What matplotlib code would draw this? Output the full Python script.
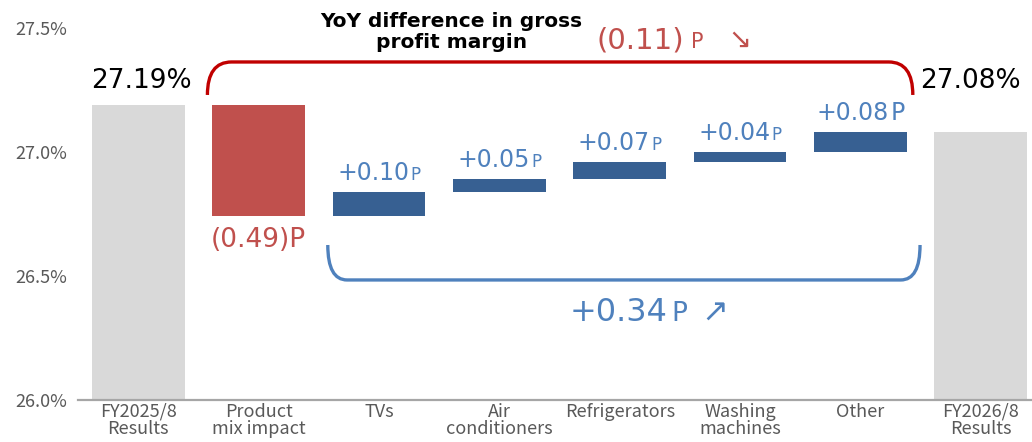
import matplotlib.pyplot as plt
import numpy as np
from matplotlib.path import Path
from matplotlib.patches import PathPatch
from matplotlib.offsetbox import TextArea, HPacker, AnnotationBbox

plt.rcParams['font.family'] = ['Noto Sans CJK JP', 'DejaVu Sans']

categories = ['FY2025/8\nResults', 'Product\nmix impact', 'TVs', 'Air\nconditioners',
              'Refrigerators', 'Washing\nmachines', 'Other', 'FY2026/8\nResults']
start_margin = 27.19
end_margin = 27.08
category_changes = [0.10, 0.05, 0.07, 0.04, 0.08]
change_labels = ['+0.10', '+0.05', '+0.07', '+0.04', '+0.08']
change_p_sizes = [12, 12, 12, 12, 17]
mix_label = '(0.49)P'
yoy_label = '(0.11)'
improve_label = '+0.34'
yticks = [26.0, 26.5, 27.0, 27.5]
ytick_labels = ['26.0%', '26.5%', '27.0%', '27.5%']

GRAY = '#d9d9d9'
RED_BAR = '#c0504d'
RED_TEXT = '#c0504d'
RED_LINE = '#c00000'
BLUE_BAR = '#376092'
BLUE_TEXT = '#4f81bd'
AXIS_TEXT = '#595959'
NUM_FONT = 'DejaVu Sans'


def bracket(ax, x0, x1, y_end, y_line, rx, color):
    verts = [(x0, y_end), (x0, y_line), (x0 + rx, y_line),
             (x1 - rx, y_line), (x1, y_line), (x1, y_end)]
    codes = [Path.MOVETO, Path.CURVE3, Path.CURVE3,
             Path.LINETO, Path.CURVE3, Path.CURVE3]
    ax.add_patch(PathPatch(Path(verts, codes), fill=False, edgecolor=color,
                           linewidth=2.4, capstyle='butt', clip_on=False))


def packed_label(ax, xy, parts, color, align=(0.5, 0), dy=0, sep=1):
    """parts: list of (text, fontsize) placed on one baseline."""
    children = [TextArea(s, textprops=dict(fontsize=fs, color=color, family=NUM_FONT))
                for s, fs in parts]
    box = HPacker(children=children, align='baseline', pad=0, sep=sep)
    ab = AnnotationBbox(box, xy, xybox=(0, dy), xycoords='data', boxcoords='offset pixels',
                        box_alignment=align, frameon=False, pad=0, annotation_clip=False)
    ax.add_artist(ab)


fig = plt.figure(figsize=(10.32, 4.42), dpi=100)
ax = fig.add_axes([78 / 1032, 42 / 442, 954 / 1032, 372 / 442])

x = np.arange(len(categories))
width = 0.77

# gray totals
ax.bar([x[0], x[-1]], [start_margin - 26.0, end_margin - 26.0], width, bottom=26.0, color=GRAY)

# category steps, built backwards from the ending margin
base = end_margin - sum(category_changes)
bottoms = base + np.concatenate([[0], np.cumsum(category_changes)[:-1]])
ax.bar(x[2:7], category_changes, width, bottom=bottoms, color=BLUE_BAR)

# product mix bar
ax.bar(x[1], start_margin - base, width, bottom=base, color=RED_BAR)

ax.set_xlim(-0.5, 7.425)
ax.set_ylim(26.0, 27.5)
ax.set_yticks(yticks)
ax.set_yticklabels(ytick_labels)
ax.set_xticks(x)
ax.set_xticklabels(categories, linespacing=0.95)
ax.tick_params(axis='both', length=0, colors=AXIS_TEXT, labelsize=13)
ax.tick_params(axis='x', pad=2)
ax.tick_params(axis='y', pad=8)
for side in ['left', 'right', 'top']:
    ax.spines[side].set_visible(False)
ax.spines['bottom'].set_color('#a6a6a6')
ax.spines['bottom'].set_linewidth(1.6)

# totals labels
ax.annotate(f'{start_margin:.2f}%', xy=(x[0], start_margin), xytext=(3, 17),
            textcoords='offset pixels', ha='center', va='baseline', fontsize=19,
            color='black', family=NUM_FONT)
ax.annotate(f'{end_margin:.2f}%', xy=(x[-1], start_margin), xytext=(-10, 17),
            textcoords='offset pixels', ha='center', va='baseline', fontsize=19,
            color='black', family=NUM_FONT, annotation_clip=False)

# step labels
tops = bottoms + np.array(category_changes)
for xi, top, lab, ps in zip(x[2:7], tops, change_labels, change_p_sizes):
    packed_label(ax, (xi, top), [(lab, 17), ('P', ps)], BLUE_TEXT, dy=7)

ax.annotate(mix_label, xy=(x[1], base), xytext=(0, -11), textcoords='offset pixels',
            ha='center', va='top', fontsize=19, color=RED_TEXT, family=NUM_FONT)

# brackets
bracket(ax, x[1] - width / 2 - 0.04, x[6] + width / 2 + 0.05, 27.23, 27.363, 0.2, RED_LINE)
bracket(ax, x[2] - width / 2 - 0.04, x[6] + width / 2 + 0.11, 26.625, 26.484, 0.16, BLUE_TEXT)

ax.text(2.6, 27.484, 'YoY difference in gross\nprofit margin', ha='center', va='center',
        fontsize=14.5, fontweight='bold', color='black', linespacing=1.1, family=NUM_FONT)

packed_label(ax, (3.81, 27.419), [(yoy_label, 21), ('P', 15), ('  \u2198', 20)],
             RED_TEXT, align=(0, 0), dy=-6, sep=5)
packed_label(ax, (3.585, 26.315), [(improve_label, 23), ('P', 19), (' \u2197', 23)],
             BLUE_TEXT, align=(0, 0), dy=-6, sep=3)

fig.savefig('out.png', dpi=100)
